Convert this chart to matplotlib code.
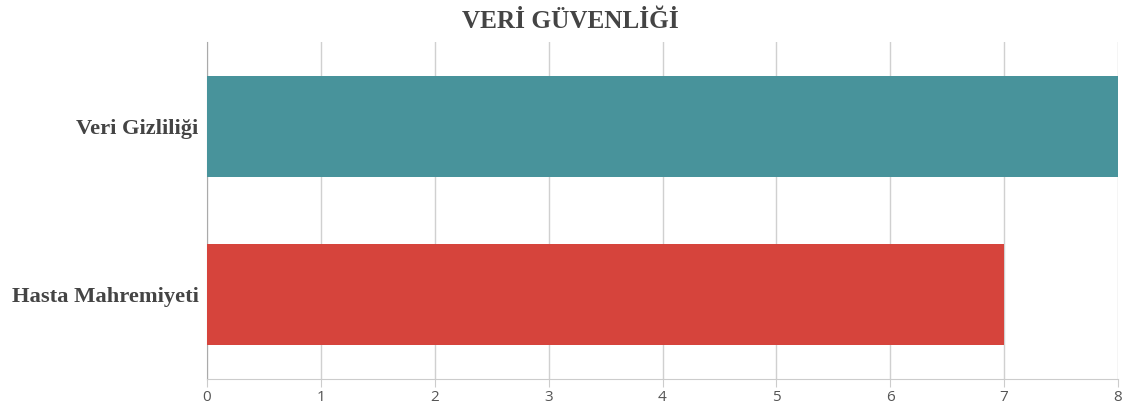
import matplotlib
matplotlib.use("Agg")
import matplotlib.pyplot as plt

categories = ["Hasta Mahremiyeti", "Veri Gizliliği"]
values = [7, 8]
colors = ["#D6443C", "#48939B"]
title = "VERİ GÜVENLİĞİ"
xticks = [0, 1, 2, 3, 4, 5, 6, 7, 8]

fig = plt.figure(figsize=(11.28, 4.08), dpi=100)
ax = fig.add_axes([207/1128, 1-379/408, (1118-207)/1128, (379-42)/408])

ypos = list(range(len(categories)))
ax.barh(ypos, values, height=0.6, color=colors, zorder=3)
ax.set_ylim(-0.5, 1.5)
ax.set_xlim(0, 8)
ax.set_xticks(xticks)
ax.set_xticklabels([str(t) for t in xticks], fontfamily="Open Sans", fontsize=11, color="#555555")
ax.set_yticks(ypos)
ax.set_yticklabels(categories, fontfamily="Liberation Serif", fontweight="bold", fontsize=16.2, color="#444444")
ax.tick_params(axis="y", length=0, pad=6)
ax.tick_params(axis="x", length=6, color="#cccccc", pad=2)
ax.grid(axis="x", color="#d0d0d0", linewidth=1, zorder=0)
for s in ["top", "right"]:
    ax.spines[s].set_visible(False)
ax.spines["left"].set_color("#aaaaaa")
ax.spines["bottom"].set_color("#cccccc")
fig.text(570/1128, 1-22/408, title, ha="center", va="center", fontfamily="Liberation Serif",
         fontweight="bold", fontsize=18.2, color="#444444")
fig.savefig("out.png", dpi=100)
